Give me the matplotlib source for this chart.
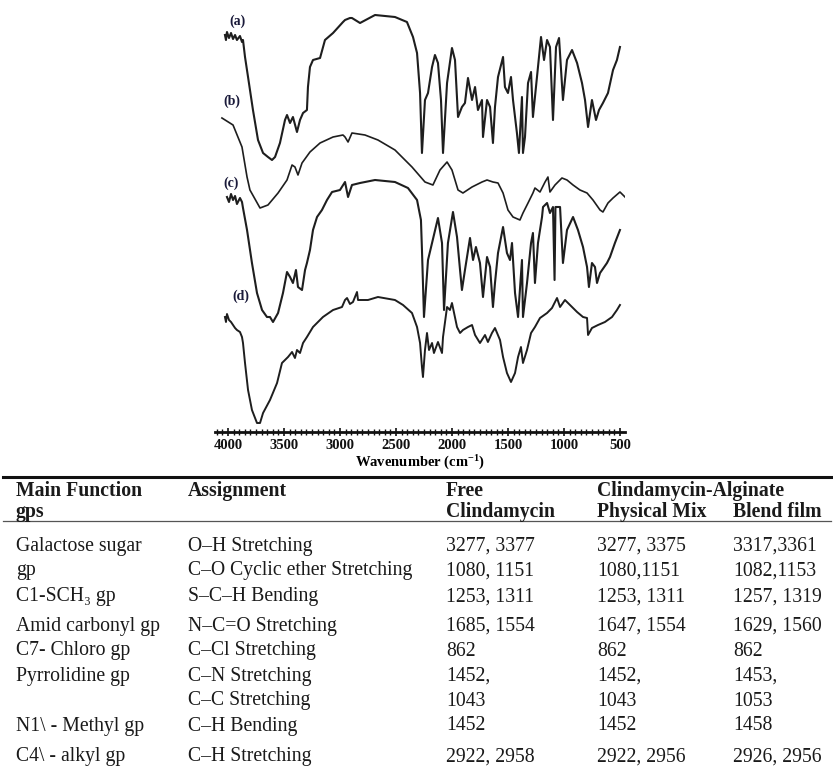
import matplotlib
matplotlib.use("Agg")
import matplotlib.pyplot as plt
from matplotlib.ticker import MultipleLocator, FixedLocator
import numpy as np

plt.rcParams['font.family'] = ['Liberation Serif', 'DejaVu Serif']
plt.rcParams['mathtext.fontset'] = 'custom'
plt.rcParams['mathtext.rm'] = 'Liberation Serif:bold'
plt.rcParams['mathtext.bf'] = 'Liberation Serif:bold'
plt.rcParams['mathtext.default'] = 'bf'

# ---------------- FTIR spectra (wavenumber cm-1, offset transmittance a.u.) ----------------
a_wn = [4027, 4018, 4009, 3991, 3973, 3955, 3937, 3920, 3893, 3875, 3866,
        3848, 3821, 3777, 3732, 3687, 3643, 3607, 3580, 3536, 3491, 3473, 3446, 3420,
        3384, 3357, 3330, 3295, 3286, 3268, 3241, 3178, 3134, 3062, 2973, 2955, 2911,
        2893, 2821, 2687, 2509, 2402, 2348, 2312, 2285, 2268, 2241, 2214, 2178, 2152,
        2125, 2098, 2080, 2044, 2000, 1973, 1946, 1911, 1884, 1857, 1821, 1794, 1768,
        1732, 1723, 1687, 1660, 1634, 1616, 1589, 1544, 1527, 1500, 1473, 1455, 1420,
        1402, 1375, 1366, 1348, 1321, 1294, 1277, 1241, 1205, 1178, 1151, 1125, 1098,
        1071, 1044, 1009, 973, 928, 883, 839, 812, 785, 750, 714, 687, 652, 607, 562,
        527, 500]
a_t = [405, 400, 408, 402, 407, 401, 405, 400, 404, 398, 400,
       383, 363, 330, 300, 287, 283, 280, 283, 297, 320, 325, 317, 323,
       308, 320, 327, 330, 353, 373, 380, 382, 400, 407, 418, 420, 422,
       422, 417, 425, 423, 418, 403, 387, 347, 287, 340, 347, 373, 385,
       377, 340, 287, 357, 392, 380, 323, 333, 337, 362, 340, 353, 330,
       340, 303, 340, 333, 297, 333, 363, 383, 353, 347, 363, 340, 307,
       287, 343, 287, 303, 357, 368, 323, 363, 403, 380, 400, 393, 320,
       393, 402, 340, 380, 390, 377, 357, 340, 313, 340, 320, 330, 337, 347, 370,
       380, 393]

b_wn = [4054, 3955, 3875, 3830, 3804, 3714, 3643, 3553, 3473, 3428, 3402, 3375,
        3339, 3268, 3178, 3062, 2973, 2955, 2928, 2893, 2777, 2661, 2509, 2357,
        2241, 2170, 2107, 2044, 2000, 1946, 1902, 1821, 1732, 1687, 1634, 1589,
        1544, 1500, 1455, 1393, 1366, 1321, 1277, 1259, 1214, 1169, 1143, 1125,
        1080, 1018, 973, 919, 857, 794, 741, 678, 652, 607, 562, 500, 455]
b_t = [322, 315, 293, 263, 250, 232, 235, 247, 260, 275, 273, 265,
       277, 288, 297, 303, 305, 303, 298, 307, 305, 300, 290, 273,
       258, 255, 270, 278, 270, 250, 247, 253, 258, 260, 258, 257,
       247, 230, 223, 220, 227, 237, 247, 252, 248, 258, 263, 248,
       255, 262, 260, 255, 250, 247, 240, 230, 228, 237, 242, 248, 243]

c_wn = [4009, 3991, 3973, 3955, 3937, 3920, 3893, 3875, 3866,
        3830, 3786, 3741, 3696, 3652, 3625, 3598, 3553, 3509, 3473, 3446, 3420,
        3393, 3375, 3339, 3312, 3295, 3268, 3241, 3205, 3161, 3116, 3071, 3000,
        2955, 2928, 2893, 2821, 2687, 2509, 2393, 2312, 2277, 2268, 2250, 2214,
        2178, 2125, 2089, 2071, 2036, 1991, 1955, 1928, 1911, 1884, 1839, 1812,
        1786, 1750, 1723, 1687, 1660, 1634, 1616, 1589, 1544, 1509, 1482, 1464,
        1437, 1410, 1375, 1366, 1330, 1294, 1277, 1259, 1232, 1196, 1187, 1151,
        1125, 1098, 1084, 1076, 1035, 1009, 973, 919, 875, 830, 794, 777, 750,
        723, 705, 678, 616, 589, 545, 500]
c_t = [243, 238, 246, 240, 244, 236, 242, 238, 232,
       210, 177, 147, 130, 123, 123, 118, 127, 147, 168, 163, 157,
       170, 153, 150, 170, 177, 190, 210, 223, 230, 240, 248, 250,
       258, 243, 255, 257, 260, 258, 252, 240, 220, 190, 123, 180,
       197, 222, 197, 130, 197, 228, 203, 170, 150, 170, 202, 180,
       193, 177, 143, 183, 173, 133, 157, 187, 213, 187, 180, 197,
       147, 123, 180, 123, 157, 197, 207, 157, 197, 223, 233, 237,
       227, 233, 160, 233, 233, 177, 210, 223, 210, 193, 173, 153, 177,
       173, 157, 167, 177, 183, 197, 210]

d_wn = [4027, 4018, 4009, 3991, 3973, 3955, 3937, 3920, 3893, 3875,
        3866, 3848, 3821, 3786, 3741, 3714, 3687, 3625, 3562, 3518, 3464, 3428,
        3402, 3384, 3357, 3330, 3295, 3241, 3152, 3062, 2982, 2955, 2937, 2911,
        2884, 2848, 2839, 2750, 2661, 2509, 2437, 2357, 2312, 2285, 2268, 2259,
        2241, 2223, 2205, 2178, 2161, 2125, 2089, 2080, 2044, 2018, 2000, 1955,
        1928, 1902, 1857, 1821, 1794, 1750, 1705, 1679, 1643, 1616, 1571, 1544,
        1509, 1473, 1437, 1410, 1384, 1366, 1330, 1294, 1259, 1214, 1151, 1107,
        1062, 1035, 991, 946, 883, 830, 794, 785, 750, 696, 634, 571, 527, 500]
d_t = [123, 118, 126, 120, 118, 115, 112, 110, 108, 103,
       97, 77, 50, 30, 17, 17, 27, 40, 57, 77, 83, 88,
       82, 90, 87, 97, 103, 113, 123, 130, 133, 140, 142, 136,
       138, 148, 140, 140, 143, 140, 135, 127, 113, 97, 73, 63,
       90, 107, 90, 97, 87, 98, 87, 103, 133, 130, 137, 113,
       107, 110, 113, 115, 105, 97, 105, 98, 107, 112, 100, 83,
       67, 58, 67, 83, 93, 77, 90, 107, 113, 122, 127, 132,
       142, 133, 140, 135, 128, 123, 122, 105, 112, 115, 118, 123, 130, 135]

curve_labels = ['(a)', '(b)', '(c)', '(d)']
tick_values = [4000, 3500, 3000, 2500, 2000, 1500, 1000, 500]

# ---------------- table ----------------
header1 = ['Main Function', 'Assignment', 'Free', 'Clindamycin-Alginate', '']
header2 = ['gps', '', 'Clindamycin', 'Physical Mix', 'Blend film']
col_groups = ['Galactose sugar', 'gp', 'C1-SCH\u2083 gp', 'Amid carbonyl gp', 'C7- Chloro gp',
              'Pyrrolidine gp', '', 'N1\\ - Methyl gp', 'C4\\ - alkyl gp']
col_assign = ['O\u2013H Stretching', 'C\u2013O Cyclic ether Stretching', 'S\u2013C\u2013H Bending',
              'N\u2013C=O Stretching', 'C\u2013Cl Stretching', 'C\u2013N Stretching',
              'C\u2013C Stretching', 'C\u2013H Bending', 'C\u2013H Stretching']
col_free = ['3277, 3377', '1080, 1151', '1253, 1311', '1685, 1554', '862', '1452,', '1043',
            '1452', '2922, 2958']
col_phys = ['3277, 3375', '1080,1151', '1253, 1311', '1647, 1554', '862', '1452,', '1043',
            '1452', '2922, 2956']
col_blend = ['3317,3361', '1082,1153', '1257, 1319', '1629, 1560', '862', '1453,', '1053',
             '1458', '2926, 2956']

W, H = 833, 771
fig = plt.figure(figsize=(W / 100, H / 100), dpi=100)

def fx(px):
    return px / W

def fy(py):
    return 1 - py / H

ax = fig.add_axes([fx(215), fy(432), fx(625) - fx(215), fy(10) - fy(432)])
line_color = '#1e1e1e'
for wn, t, lw in [(a_wn, a_t, 1.5), (b_wn, b_t, 1.2), (c_wn, c_t, 1.5), (d_wn, d_t, 1.4)]:
    ax.plot(wn, t, color=line_color, lw=lw)

ax.set_xlim(4116, 455)
ax.set_ylim(8, 430)
for s in ['top', 'left', 'right']:
    ax.spines[s].set_visible(False)
ax.spines['bottom'].set_linewidth(2.0)
ax.spines['bottom'].set_color('#111111')
ax.set_yticks([])
ax.xaxis.set_major_locator(FixedLocator(tick_values))
ax.xaxis.set_minor_locator(MultipleLocator(50))
ax.tick_params(axis='x', which='major', direction='inout', length=6, width=1.2, pad=2,
               labelsize=10.5, colors='#111111')
ax.tick_params(axis='x', which='minor', direction='inout', length=4, width=1.0, colors='#111111')
ax.set_xticklabels([str(v) for v in tick_values], fontweight='bold')
ax.set_xlabel(r'Wavenumber (cm$^{-1}$)', fontsize=10.5, fontweight='bold', labelpad=1)
ax.patch.set_alpha(0)

label_pos = [(238, 21), (232, 101), (231, 183), (241, 296)]
for lab, (px, py) in zip(curve_labels, label_pos):
    fig.text(fx(px), fy(py), lab, fontsize=10, fontweight='bold', color='#1a1a3a',
             ha='center', va='center')

# table rules
fig.add_artist(plt.Line2D([fx(3), fx(831)], [fy(477), fy(477)], color='#111111', lw=2.2))
fig.add_artist(plt.Line2D([fx(3), fx(831)], [fy(521), fy(521)], color='#555555', lw=0.9))

col_x = [16, 188, 446, 597, 733]
fs = 14.2
tcolor = '#1a1a1a'
for txt, x in zip(header1, col_x):
    if txt:
        fig.text(fx(x), fy(491), txt, fontsize=fs, fontweight='bold', color=tcolor, va='center')
for txt, x in zip(header2, col_x):
    if txt:
        fig.text(fx(x), fy(512), txt, fontsize=fs, fontweight='bold', color=tcolor, va='center')

row_y = [546, 571, 597, 626, 651, 676, 701, 726, 757]
cols = [col_groups, col_assign, col_free, col_phys, col_blend]
for ci, (col, x) in enumerate(zip(cols, col_x)):
    for txt, y in zip(col, row_y):
        if txt:
            fig.text(fx(x), fy(y), txt, fontsize=fs, color=tcolor, va='center')

fig.savefig('out.png', dpi=100)
